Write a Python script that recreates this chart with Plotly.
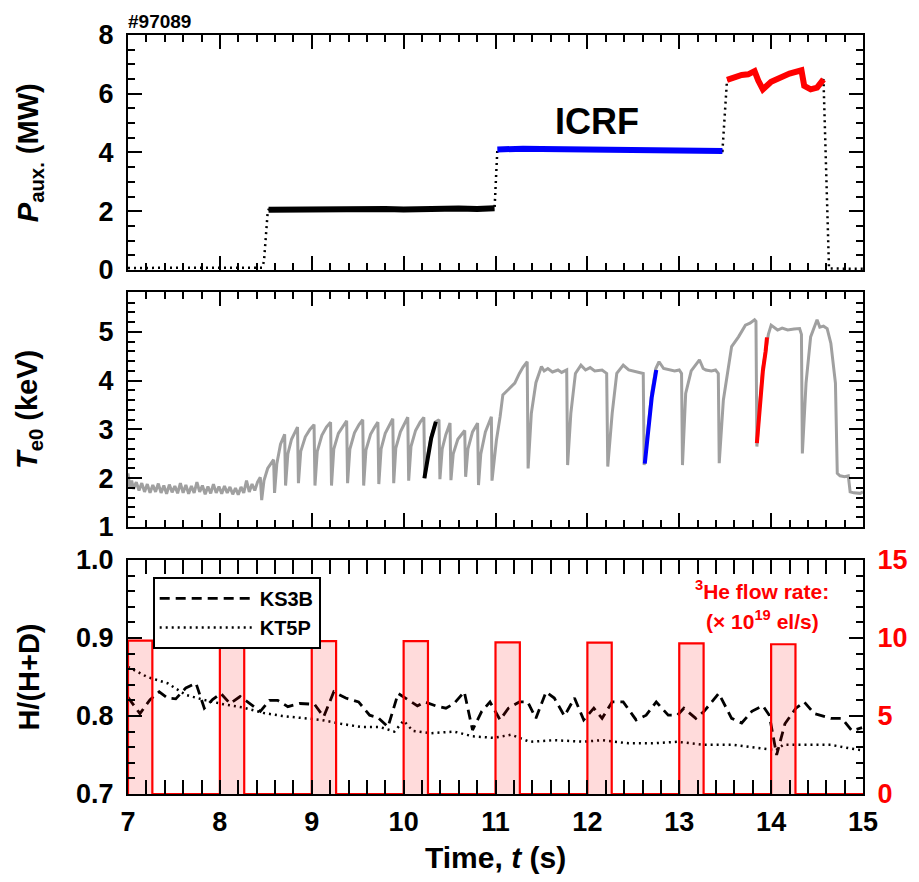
import plotly.graph_objects as go

FONT = "Liberation Sans, Arial, Helvetica, sans-serif"

# ---------------- Panel (a): auxiliary heating power (MW) ----------------
P_PRE_T = [7.0, 7.4, 7.8, 8.2, 8.46, 8.48, 8.50, 8.52]
P_PRE_V = [0.07, 0.07, 0.06, 0.07, 0.08, 0.3, 1.2, 1.95]
P_SEG1_T = [8.53, 8.7, 8.85, 9.0, 9.2, 9.4, 9.6, 9.8, 10.0, 10.2, 10.4, 10.6, 10.8, 10.99]
P_SEG1_V = [2.05, 2.06, 2.05, 2.07, 2.06, 2.08, 2.07, 2.08, 2.06, 2.08, 2.07, 2.09, 2.08, 2.10]
P_SEG2_T = [11.02, 11.15, 11.3, 11.5, 11.7, 11.9, 12.1, 12.3, 12.5, 12.7, 12.9, 13.1, 13.3, 13.47]
P_SEG2_V = [4.10, 4.12, 4.13, 4.12, 4.11, 4.12, 4.10, 4.11, 4.09, 4.08, 4.09, 4.07, 4.07, 4.05]
P_SEG3_T = [13.52, 13.6, 13.68, 13.75, 13.82, 13.86, 13.91, 14.0, 14.09, 14.2, 14.33, 14.36, 14.43, 14.5, 14.57]
P_SEG3_V = [6.47, 6.56, 6.64, 6.66, 6.77, 6.45, 6.15, 6.41, 6.56, 6.69, 6.80, 6.27, 6.15, 6.21, 6.49]
P_POST_T = [14.63, 14.8, 15.0]
P_POST_V = [0.05, 0.04, 0.04]

# ---------------- Panel (b): central electron temperature (keV) ----------------
TE_OHMIC_T = [7.00, 7.02, 7.04, 7.06, 7.09, 7.12, 7.15, 7.18, 7.21, 7.24, 7.27, 7.30, 7.33, 7.36,
              7.39, 7.42, 7.45, 7.48, 7.51, 7.54, 7.57, 7.60, 7.63, 7.66, 7.69, 7.72, 7.75, 7.78,
              7.81, 7.84, 7.87, 7.90, 7.93, 7.96, 7.99, 8.02, 8.05, 8.08, 8.11, 8.14, 8.17, 8.20,
              8.23, 8.26, 8.29, 8.32, 8.35, 8.38, 8.41, 8.44]
TE_OHMIC_V = [2.10, 1.80, 1.95, 1.78, 1.92, 1.75, 1.90, 1.72, 1.88, 1.70, 1.86, 1.72, 1.89, 1.70,
              1.85, 1.68, 1.87, 1.71, 1.84, 1.69, 1.90, 1.70, 1.86, 1.68, 1.84, 1.70, 1.92, 1.72,
              1.85, 1.67, 1.83, 1.69, 1.88, 1.70, 1.83, 1.68, 1.84, 1.70, 1.82, 1.67, 1.80, 1.66,
              1.82, 1.70, 1.95, 1.72, 1.88, 1.75, 1.92, 2.02]
TE_NBI_T = [8.455, 8.48, 8.52, 8.585, 8.595, 8.62, 8.66, 8.705, 8.715, 8.74, 8.78, 8.845, 8.855,
            8.88, 8.93, 8.98, 9.025, 9.035, 9.06, 9.11, 9.16, 9.205, 9.215, 9.24, 9.29, 9.34, 9.38,
            9.39, 9.415, 9.465, 9.515, 9.555, 9.565, 9.59, 9.64, 9.685, 9.72, 9.73, 9.755, 9.80,
            9.85, 9.882, 9.892, 9.915, 9.965, 10.01, 10.045, 10.055, 10.08, 10.13, 10.18, 10.22,
            10.23, 10.26, 10.30, 10.35, 10.385, 10.395, 10.42, 10.46, 10.505, 10.515, 10.54, 10.59,
            10.665, 10.675, 10.70, 10.75, 10.805, 10.815, 10.84, 10.89, 10.955, 10.962]
TE_NBI_V = [1.55, 1.95, 2.20, 2.38, 1.70, 2.30, 2.70, 2.90, 1.85, 2.50, 2.80, 3.05, 1.90,
            2.55, 2.85, 3.00, 3.10, 1.85, 2.55, 2.88, 3.05, 3.15, 1.85, 2.60, 2.92, 3.08, 3.18,
            1.90, 2.60, 2.93, 3.10, 3.20, 1.85, 2.58, 2.90, 3.05, 3.15, 1.88, 2.60, 2.92,
            3.10, 3.22, 1.90, 2.62, 2.95, 3.12, 3.25, 1.95, 2.65, 2.98, 3.15, 3.25,
            2.00, 2.45, 2.85, 3.16, 3.20, 1.98, 2.60, 2.90, 3.13, 1.96, 2.50, 2.80,
            2.98, 2.03, 2.60, 2.95, 3.13, 1.86, 2.50, 2.95, 3.26, 1.95]
TE_ICRF_T = [11.01, 11.05, 11.08, 11.14, 11.21, 11.26, 11.30, 11.345, 11.355,
             11.39, 11.44, 11.50, 11.53, 11.57, 11.62, 11.68, 11.72, 11.775, 11.785,
             11.82, 11.87, 11.93, 11.98, 12.03, 12.08, 12.16, 12.21, 12.222,
             12.27, 12.32, 12.39, 12.45, 12.50, 12.55, 12.608, 12.618,
             12.66, 12.70, 12.745, 12.78, 12.83, 12.89, 12.95, 13.00, 13.025, 13.035,
             13.07, 13.13, 13.22, 13.26, 13.29, 13.35, 13.395, 13.425, 13.435,
             13.48, 13.54, 13.57, 13.645, 13.72, 13.77, 13.82, 13.835, 13.845,
             13.88, 13.91, 13.94, 13.97, 14.00, 14.07, 14.12, 14.18, 14.25, 14.31, 14.33, 14.34,
             14.38, 14.43, 14.50, 14.53, 14.57, 14.61, 14.65, 14.70, 14.72, 14.75, 14.80, 14.84,
             14.86, 14.90, 14.97, 15.0]
TE_ICRF_V = [2.78, 3.26, 3.71, 3.82, 3.95, 4.15, 4.28, 4.39, 2.20,
             3.33, 3.96, 4.29, 4.20, 4.25, 4.18, 4.22, 4.17, 4.22, 2.27,
             3.33, 4.15, 4.32, 4.22, 4.27, 4.20, 4.22, 4.15, 2.24,
             3.33, 4.15, 4.32, 4.22, 4.20, 4.18, 4.15, 2.27,
             3.10, 3.75, 4.25, 4.39, 4.25, 4.22, 4.20, 4.22, 4.15, 2.27,
             3.74, 4.20, 4.43, 4.25, 4.22, 4.20, 4.22, 4.15, 2.31,
             3.60, 4.39, 4.70, 4.90, 5.14, 5.18, 5.25, 5.22, 2.65,
             3.60, 4.25, 4.60, 4.95, 5.14, 5.04, 5.08, 5.04, 5.06, 5.07, 4.95, 2.51,
             3.95, 4.90, 5.25, 5.10, 5.12, 5.07, 4.77, 3.95, 2.10, 2.05, 2.03, 2.05,
             1.72, 1.70, 1.69, 1.72]
TE_BLACK_T = [10.226, 10.26, 10.30, 10.351]
TE_BLACK_V = [2.00, 2.42, 2.82, 3.16]
TE_BLUE_T = [12.625, 12.66, 12.70, 12.75]
TE_BLUE_V = [2.30, 3.00, 3.65, 4.22]
TE_RED_T = [13.845, 13.88, 13.91, 13.94, 13.955]
TE_RED_V = [2.72, 3.55, 4.20, 4.60, 4.89]

# ---------------- Panel (c): H/(H+D) and 3He flow ----------------
KS3B_T = [7.0, 7.13, 7.24, 7.34, 7.43, 7.52, 7.63, 7.74, 7.83, 7.92, 8.01, 8.11, 8.22, 8.33, 8.44,
          8.54, 8.63, 8.74, 8.87, 9.03, 9.13, 9.24, 9.37, 9.51, 9.63, 9.72, 9.83, 9.94, 10.05,
          10.15, 10.23, 10.35, 10.46, 10.55, 10.66, 10.75, 10.85, 10.94, 11.05, 11.14, 11.26,
          11.35, 11.44, 11.55, 11.64, 11.75, 11.86, 11.96, 12.07, 12.16, 12.27, 12.39, 12.53,
          12.64, 12.75, 12.88, 12.98, 13.05, 13.18, 13.27, 13.43, 13.57, 13.68, 13.79, 13.91,
          13.98, 14.06, 14.15, 14.27, 14.36, 14.47, 14.65, 14.77, 14.88, 14.99]
KS3B_V = [0.824, 0.803, 0.821, 0.831, 0.823, 0.822, 0.836, 0.842, 0.810, 0.821, 0.829, 0.816,
          0.825, 0.816, 0.806, 0.820, 0.820, 0.812, 0.816, 0.815, 0.799, 0.831, 0.823, 0.818,
          0.801, 0.798, 0.786, 0.829, 0.821, 0.813, 0.818, 0.813, 0.810, 0.816, 0.831, 0.782,
          0.806, 0.818, 0.795, 0.810, 0.818, 0.818, 0.797, 0.831, 0.823, 0.800, 0.823, 0.795,
          0.810, 0.797, 0.818, 0.818, 0.795, 0.801, 0.818, 0.801, 0.801, 0.810, 0.797, 0.806,
          0.829, 0.797, 0.791, 0.806, 0.813, 0.801, 0.750, 0.790, 0.810, 0.818, 0.803, 0.797,
          0.797, 0.781, 0.785]
KT5P_T = [7.0, 7.21, 7.43, 7.63, 7.85, 8.04, 8.25, 8.47, 8.68, 8.90, 9.10, 9.32, 9.53, 9.74, 9.90,
          10.0, 10.1, 10.3, 10.55, 10.75, 10.98, 11.17, 11.37, 11.64, 11.96, 12.16, 12.45, 12.71,
          12.98, 13.27, 13.60, 13.93, 14.05, 14.13, 14.38, 14.65, 14.88, 15.0]
KT5P_V = [0.863, 0.850, 0.842, 0.827, 0.820, 0.815, 0.811, 0.804, 0.800, 0.797, 0.795, 0.790,
          0.786, 0.786, 0.780, 0.794, 0.781, 0.778, 0.780, 0.774, 0.772, 0.776, 0.767, 0.769,
          0.767, 0.769, 0.765, 0.765, 0.767, 0.763, 0.763, 0.758, 0.756, 0.763, 0.763, 0.763,
          0.758, 0.756]
HE_START = [7.0, 8.0, 9.0, 10.0, 11.0, 12.0, 13.0, 14.0]
HE_DUR = [0.265, 0.265, 0.265, 0.265, 0.265, 0.265, 0.265, 0.265]
HE_RATE = [9.83, 9.83, 9.80, 9.80, 9.72, 9.70, 9.66, 9.60]

# ---------------- build figure ----------------
fig = go.Figure()

p_all_t = P_PRE_T + P_SEG1_T + P_SEG2_T + P_SEG3_T + P_POST_T
p_all_v = P_PRE_V + P_SEG1_V + P_SEG2_V + P_SEG3_V + P_POST_V
fig.add_trace(go.Scatter(x=p_all_t, y=p_all_v, mode="lines", xaxis="x", yaxis="y",
                         line=dict(color="black", width=2.5, dash="2px,4px"), showlegend=False))
for tt, vv, col in [(P_SEG1_T, P_SEG1_V, "black"), (P_SEG2_T, P_SEG2_V, "#0000ff"),
                    (P_SEG3_T, P_SEG3_V, "#ff0000")]:
    fig.add_trace(go.Scatter(x=tt, y=vv, mode="lines", xaxis="x", yaxis="y",
                             line=dict(color=col, width=6), showlegend=False))

te_t = TE_OHMIC_T + TE_NBI_T + TE_ICRF_T
te_v = TE_OHMIC_V + TE_NBI_V + TE_ICRF_V
fig.add_trace(go.Scatter(x=te_t, y=te_v, mode="lines", xaxis="x2", yaxis="y2",
                         line=dict(color="#a0a0a0", width=3), showlegend=False))
for tt, vv, col in [(TE_BLACK_T, TE_BLACK_V, "black"), (TE_BLUE_T, TE_BLUE_V, "#0000ff"),
                    (TE_RED_T, TE_RED_V, "#ff0000")]:
    fig.add_trace(go.Scatter(x=tt, y=vv, mode="lines", xaxis="x2", yaxis="y2",
                             line=dict(color=col, width=4), showlegend=False))

# 3He flow step trace
he_x, he_y = [], []
for s, d, h in zip(HE_START, HE_DUR, HE_RATE):
    he_x += [s, s, s + d, s + d]
    he_y += [0, h, h, 0]
he_x.append(15.0)
he_y.append(0)
fig.add_trace(go.Scatter(x=he_x, y=he_y, mode="lines", xaxis="x3", yaxis="y4",
                         line=dict(color="#ff0000", width=2.2), fill="tozeroy",
                         fillcolor="rgba(255,0,0,0.14)", showlegend=False))
fig.add_trace(go.Scatter(x=KS3B_T, y=KS3B_V, mode="lines", xaxis="x3", yaxis="y3", name="KS3B",
                         line=dict(color="black", width=2.8, dash="10px,6px")))
fig.add_trace(go.Scatter(x=KT5P_T, y=KT5P_V, mode="lines", xaxis="x3", yaxis="y3", name="KT5P",
                         line=dict(color="black", width=2.5, dash="2px,4px")))

TICKFONT = dict(family=FONT, size=27, color="black", weight="bold")
MINOR = dict(ticks="inside", ticklen=7, tickwidth=2, tickcolor="black")


def axis(**kw):
    d = dict(showline=True, linecolor="black", linewidth=2, mirror="allticks", ticks="inside",
             ticklen=14, tickwidth=2, tickcolor="black", showgrid=False, zeroline=False,
             tickfont=TICKFONT)
    d.update(kw)
    return d


fig.update_layout(
    width=911, height=874,
    margin=dict(l=120, r=46, t=27, b=88),
    paper_bgcolor="white", plot_bgcolor="white",
    font=dict(family=FONT, size=20, color="black", weight="bold"),
    xaxis=axis(anchor="y", domain=[0, 1], range=[7, 15], dtick=1, showticklabels=False,
               minor=dict(dtick=0.2, **MINOR)),
    yaxis=axis(domain=[0.6904, 1.0], range=[0, 8], dtick=2, anchor="x", ticklabelstandoff=7,
               minor=dict(dtick=0.5, **MINOR)),
    xaxis2=axis(anchor="y2", domain=[0, 1], range=[7, 15], dtick=1, showticklabels=False,
                minor=dict(dtick=0.2, **MINOR)),
    yaxis2=axis(domain=[0.3518, 0.6614], range=[1, 5.82], dtick=1, tick0=1, anchor="x2",
                ticklabelstandoff=7, minor=dict(dtick=0.2, **MINOR)),
    xaxis3=axis(anchor="y3", domain=[0, 1], range=[7, 15], dtick=1, ticklabelstandoff=3,
                minor=dict(dtick=0.2, **MINOR)),
    yaxis3=axis(domain=[0, 0.3083], range=[0.7, 1.0], dtick=0.1, tickformat=".1f", anchor="x3",
                mirror=True, ticklabelstandoff=7, minor=dict(dtick=0.02, **MINOR)),
    yaxis4=axis(overlaying="y3", side="right", anchor="x3", range=[0, 15], dtick=5, mirror=False,
                ticklabelstandoff=7,
                tickfont=dict(family=FONT, size=27, color="#ff0000", weight="bold"),
                minor=dict(dtick=1, **MINOR)),
    legend=dict(x=0.0336, y=0.286, xanchor="left", yanchor="top", bgcolor="white",
                bordercolor="black", borderwidth=2, itemwidth=95,
                font=dict(family=FONT, size=20, color="black", weight="bold"),
                tracegroupgap=0),
    showlegend=True,
)

ann = [
    dict(text="#97089", xref="paper", yref="paper", x=-0.003, y=1.0184, xanchor="left",
         yanchor="middle", showarrow=False, font=dict(family=FONT, size=19, weight="bold")),
    dict(text="ICRF", xref="x", yref="y", x=12.1, y=5.05, showarrow=False,
         font=dict(family=FONT, size=36, weight="bold")),
    dict(text="<i>P</i><sub>aux.</sub> (MW)", xref="paper", yref="paper", x=-0.134, y=0.845,
         textangle=-90, showarrow=False, xanchor="center", yanchor="middle",
         font=dict(family=FONT, size=29, weight="bold")),
    dict(text="<i>T</i><sub>e0</sub> (keV)", xref="paper", yref="paper", x=-0.134, y=0.5066,
         textangle=-90, showarrow=False, xanchor="center", yanchor="middle",
         font=dict(family=FONT, size=29, weight="bold")),
    dict(text="H/(H+D)", xref="paper", yref="paper", x=-0.134, y=0.154,
         textangle=-90, showarrow=False, xanchor="center", yanchor="middle",
         font=dict(family=FONT, size=29, weight="bold")),
    dict(text="Time, <i>t</i> (s)", xref="paper", yref="paper", x=0.5, y=-0.0843,
         showarrow=False, xanchor="center", yanchor="middle",
         font=dict(family=FONT, size=30, weight="bold")),
    dict(text="<sup>3</sup>He flow rate:", xref="paper", yref="paper", x=0.863, y=0.2688,
         showarrow=False, xanchor="center", yanchor="middle",
         font=dict(family=FONT, size=21, color="#ff0000", weight="bold")),
    dict(text="(× 10<sup>19</sup> el/s)", xref="paper", yref="paper", x=0.863, y=0.229,
         showarrow=False, xanchor="center", yanchor="middle",
         font=dict(family=FONT, size=21, color="#ff0000", weight="bold")),
]
fig.update_layout(annotations=ann)

fig.write_html("out.html")
